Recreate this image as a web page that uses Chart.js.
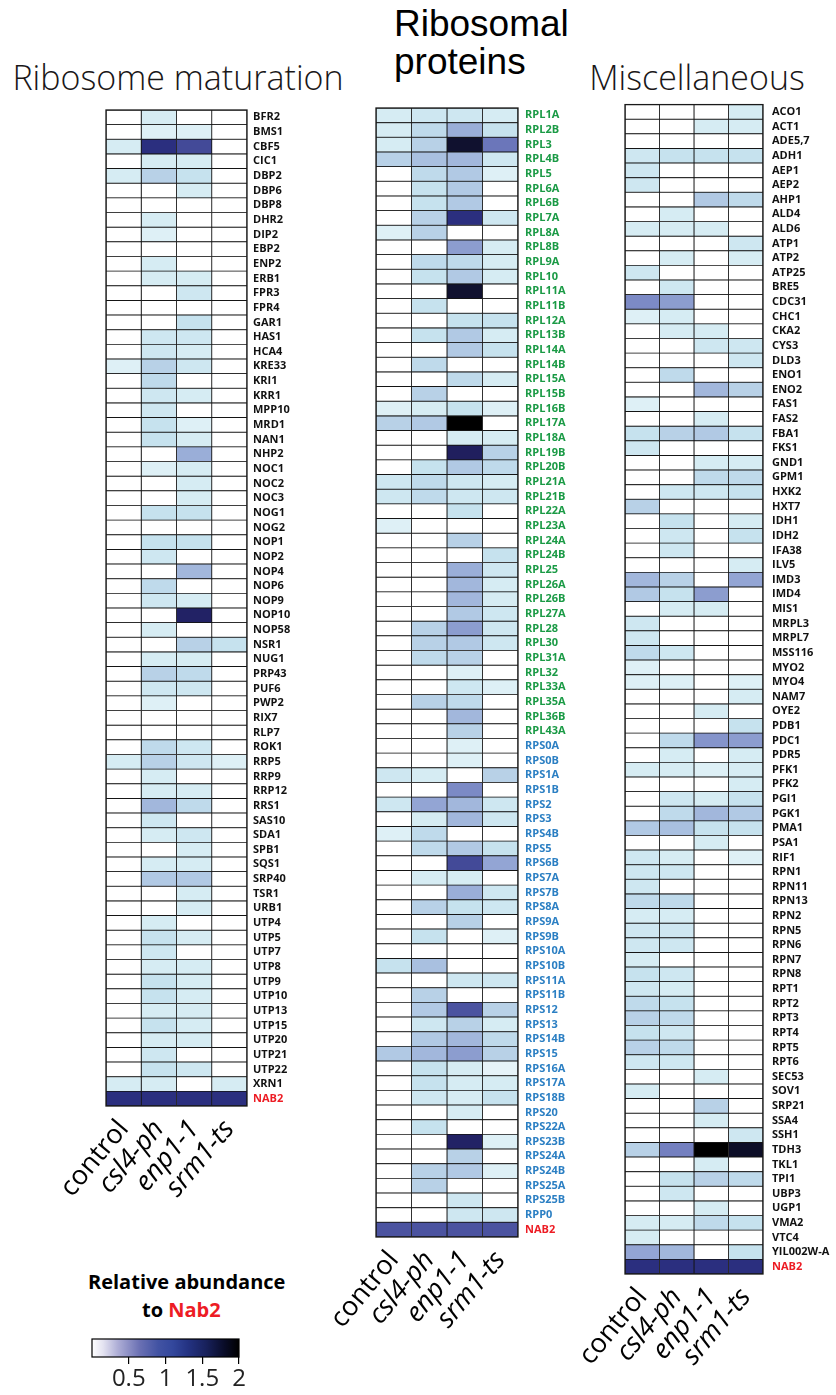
<!DOCTYPE html>
<html>
<head>
<meta charset="utf-8">
<script src="https://cdn.jsdelivr.net/npm/chart.js@4.4.1/dist/chart.umd.min.js"></script>
<style>
  body { margin: 0; background: #fff; width: 836px; height: 1395px; position: relative; overflow: hidden; font-family: 'Open Sans', sans-serif; }
  .title { position: absolute; font-weight: 300; font-size: 34px; color: #1a1718; text-align: center; line-height: 39px; white-space: nowrap; }
  .title.plain { font-family: 'Liberation Sans', Arial, sans-serif; font-weight: 400; font-size: 37px; line-height: 38px; text-align: left; color: #000; }
  .legend-title { position: absolute; font-family: 'Open Sans', sans-serif; font-weight: 700; font-size: 20px; color: #000; line-height: 28px; white-space: nowrap; }
  canvas { position: absolute; }
</style>
</head>
<body>
<div class="title" style="left:10px; top:58px; width:336px;">Ribosome maturation</div>
<div class="title plain" style="left:394px; top:5px;">Ribosomal<br>proteins</div>
<div class="title" style="left:588px; top:58px; width:218px;">Miscellaneous</div>
<div class="legend-title" style="left:88px; top:1268px;">Relative abundance</div>
<div class="legend-title" style="left:142px; top:1296px;">to <span style="color:#ed1c24">Nab2</span></div>

<canvas id="maturation"></canvas>
<canvas id="ribosomal"></canvas>
<canvas id="misc"></canvas>
<canvas id="colorbar"></canvas>

<script>
// strains (heatmap columns)
const strains = ['control', 'csl4-ph', 'enp1-1', 'srm1-ts'];

// Ribosome maturation factors, values per strain relative to Nab2
const maturationGenes = ['BFR2','BMS1','CBF5','CIC1','DBP2','DBP6','DBP8','DHR2','DIP2','EBP2','ENP2','ERB1','FPR3','FPR4','GAR1','HAS1','HCA4','KRE33','KRI1','KRR1','MPP10','MRD1','NAN1','NHP2','NOC1','NOC2','NOC3','NOG1','NOG2','NOP1','NOP2','NOP4','NOP6','NOP9','NOP10','NOP58','NSR1','NUG1','PRP43','PUF6','PWP2','RIX7','RLP7','ROK1','RRP5','RRP9','RRP12','RRS1','SAS10','SDA1','SPB1','SQS1','SRP40','TSR1','URB1','UTP4','UTP5','UTP7','UTP8','UTP9','UTP10','UTP13','UTP15','UTP20','UTP21','UTP22','XRN1','NAB2'];
const maturationValues = [
  [0,0.2,0,0],[0,0.15,0.15,0],[0.2,1.2,1.05,0],[0,0.2,0.2,0],[0.2,0.4,0.3,0],[0,0,0.2,0],[0,0,0,0],[0,0.2,0,0],
  [0,0.15,0,0],[0,0,0,0],[0,0.2,0,0],[0,0.2,0.2,0],[0,0,0.25,0],[0,0,0,0],[0,0,0.3,0],[0,0.25,0.25,0],
  [0,0.25,0.2,0],[0.15,0.4,0.25,0],[0,0.35,0,0],[0,0.25,0.2,0],[0,0.25,0,0],[0,0.3,0.15,0],[0,0.3,0.2,0],
  [0,0,0.6,0],[0,0.15,0.2,0],[0,0,0.2,0],[0,0,0.2,0],[0,0.3,0.3,0],[0,0,0,0],[0,0.3,0.3,0],[0,0.25,0,0],
  [0,0,0.55,0],[0,0.35,0,0],[0,0.25,0.2,0],[0,0,1.4,0],[0,0.2,0,0],[0,0,0.4,0.3],[0,0.2,0.2,0],[0,0.4,0.35,0],
  [0,0.25,0.25,0],[0,0.15,0,0],[0,0,0,0],[0,0,0,0],[0,0.35,0.25,0],[0.2,0.4,0.25,0.15],[0,0.2,0,0],
  [0,0.2,0.2,0],[0,0.55,0.35,0],[0,0.25,0,0],[0,0.2,0.25,0],[0,0,0.2,0],[0,0.2,0.2,0],[0,0.45,0.45,0],
  [0,0,0.2,0],[0,0,0.2,0],[0,0.2,0,0],[0,0.3,0.2,0],[0,0.25,0,0],[0,0.2,0.2,0],[0,0.3,0.2,0],[0,0.3,0.2,0],
  [0,0.2,0.2,0],[0,0.3,0.2,0],[0,0.2,0.2,0],[0,0.25,0,0],[0,0.3,0.25,0],[0.2,0.2,0,0.2],[1.2,1.2,1.2,1.2]
];

// Ribosomal proteins
const ribosomalGenes = ['RPL1A','RPL2B','RPL3','RPL4B','RPL5','RPL6A','RPL6B','RPL7A','RPL8A','RPL8B','RPL9A','RPL10','RPL11A','RPL11B','RPL12A','RPL13B','RPL14A','RPL14B','RPL15A','RPL15B','RPL16B','RPL17A','RPL18A','RPL19B','RPL20B','RPL21A','RPL21B','RPL22A','RPL23A','RPL24A','RPL24B','RPL25','RPL26A','RPL26B','RPL27A','RPL28','RPL30','RPL31A','RPL32','RPL33A','RPL35A','RPL36B','RPL43A','RPS0A','RPS0B','RPS1A','RPS1B','RPS2','RPS3','RPS4B','RPS5','RPS6B','RPS7A','RPS7B','RPS8A','RPS9A','RPS9B','RPS10A','RPS10B','RPS11A','RPS11B','RPS12','RPS13','RPS14B','RPS15','RPS16A','RPS17A','RPS18B','RPS20','RPS22A','RPS23B','RPS24A','RPS24B','RPS25A','RPS25B','RPP0','NAB2'];
const ribosomalValues = [
  [0.2,0.25,0.25,0.2],[0.2,0.35,0.6,0.3],[0.2,0.4,1.7,0.9],[0.4,0.5,0.55,0.25],[0,0.35,0.45,0.15],[0,0.3,0.45,0],
  [0,0.3,0.45,0],[0,0.4,1.2,0.25],[0.15,0.4,0,0],[0,0,0.7,0.2],[0,0.35,0.35,0.2],[0,0.3,0.45,0.2],[0,0,1.7,0],
  [0,0.3,0,0],[0,0,0.3,0.3],[0,0.3,0.45,0.2],[0,0,0.45,0.3],[0,0.35,0,0],[0,0,0.35,0.2],[0,0.4,0,0],
  [0.15,0.2,0.3,0.15],[0.4,0.45,2.0,0],[0,0,0.2,0.2],[0,0,1.45,0.4],[0,0.3,0.45,0.35],[0.25,0.35,0.25,0.2],
  [0.25,0.35,0.25,0.25],[0,0,0.3,0],[0.15,0,0,0],[0,0,0.4,0],[0,0,0,0.3],[0,0,0.6,0.25],[0,0,0.55,0.2],
  [0,0,0.55,0.2],[0,0,0.45,0.25],[0,0.4,0.7,0.25],[0,0.4,0.45,0.25],[0,0.35,0.4,0],[0,0,0.15,0],[0,0,0.25,0.15],
  [0,0.4,0.35,0],[0,0,0.55,0],[0,0,0.4,0],[0,0,0.15,0],[0,0,0.15,0],[0.25,0.2,0,0.4],[0,0,0.8,0],
  [0.25,0.65,0.55,0.25],[0,0.2,0.55,0.25],[0.15,0.35,0,0],[0,0.35,0.45,0.3],[0,0,1.05,0.65],[0,0.2,0.2,0],
  [0,0,0.6,0.25],[0,0.4,0.3,0.25],[0,0,0.4,0],[0,0.3,0,0.15],[0,0,0,0],[0.3,0.5,0,0],[0,0,0.25,0.25],
  [0,0.4,0,0],[0,0.45,1.0,0.4],[0,0.25,0.4,0.2],[0,0.45,0.55,0.35],[0.45,0.55,0.7,0.4],[0,0.3,0.2,0.1],
  [0,0.3,0.2,0.2],[0,0.25,0.2,0.3],[0,0,0.2,0],[0,0.3,0,0],[0,0,1.4,0.15],[0,0,0.4,0],[0,0.4,0.45,0.15],
  [0,0.4,0,0],[0,0,0.25,0],[0,0,0.25,0.25],[1,1,1,1]
];

// Miscellaneous proteins
const miscGenes = ['ACO1','ACT1','ADE5,7','ADH1','AEP1','AEP2','AHP1','ALD4','ALD6','ATP1','ATP2','ATP25','BRE5','CDC31','CHC1','CKA2','CYS3','DLD3','ENO1','ENO2','FAS1','FAS2','FBA1','FKS1','GND1','GPM1','HXK2','HXT7','IDH1','IDH2','IFA38','ILV5','IMD3','IMD4','MIS1','MRPL3','MRPL7','MSS116','MYO2','MYO4','NAM7','OYE2','PDB1','PDC1','PDR5','PFK1','PFK2','PGI1','PGK1','PMA1','PSA1','RIF1','RPN1','RPN11','RPN13','RPN2','RPN5','RPN6','RPN7','RPN8','RPT1','RPT2','RPT3','RPT4','RPT5','RPT6','SEC53','SOV1','SRP21','SSA4','SSH1','TDH3','TKL1','TPI1','UBP3','UGP1','VMA2','VTC4','YIL002W-A','NAB2'];
const miscValues = [
  [0,0,0,0.2],[0,0,0.2,0.2],[0,0,0,0],[0.25,0.3,0.3,0.3],[0.25,0,0,0],[0.25,0,0,0],[0,0,0.45,0.35],[0,0.2,0,0],
  [0.2,0.2,0.2,0],[0,0,0,0.25],[0,0.2,0,0.2],[0.25,0,0,0],[0,0.25,0,0],[0.8,0.7,0,0],[0.15,0.2,0,0],[0,0.2,0.2,0],
  [0,0,0.25,0.25],[0,0,0,0.25],[0,0.35,0,0],[0,0,0.55,0.4],[0.15,0,0,0],[0,0,0.2,0],[0.3,0.4,0.45,0.3],[0.25,0,0,0],
  [0,0,0.2,0.2],[0,0,0.35,0.35],[0,0.25,0.25,0.3],[0.4,0,0,0],[0,0.3,0,0.2],[0,0.25,0,0.3],[0,0.25,0,0],[0,0,0,0.2],
  [0.55,0.4,0,0.65],[0.45,0.3,0.7,0],[0,0.2,0.2,0],[0.25,0,0,0],[0.25,0,0,0],[0.35,0.25,0,0],[0.15,0,0,0],[0.15,0.15,0,0.15],
  [0,0,0,0.2],[0,0,0.2,0],[0,0,0,0.3],[0,0.35,0.75,0.7],[0,0.2,0,0.2],[0.2,0.2,0.15,0.2],[0,0,0,0.2],[0,0.25,0.2,0.3],
  [0,0.35,0.55,0.45],[0.45,0.5,0.3,0.3],[0,0,0.2,0],[0.25,0.2,0,0.15],[0.25,0.25,0,0],[0.25,0,0,0],[0.35,0.35,0,0],[0.2,0.2,0,0],
  [0.25,0.25,0,0],[0.25,0.25,0,0],[0.2,0,0,0],[0.3,0.25,0,0],[0.25,0.2,0,0],[0.35,0.3,0,0],[0.4,0.35,0,0],[0.3,0.25,0,0],
  [0.4,0.35,0,0],[0.25,0.25,0,0],[0,0,0.2,0],[0.2,0,0,0],[0,0,0.4,0],[0,0,0.2,0],[0,0,0,0.25],[0.4,0.85,2.0,1.75],
  [0,0,0.2,0],[0,0.3,0.4,0.35],[0,0.25,0,0],[0,0,0.2,0],[0.2,0.2,0.35,0.3],[0.2,0,0,0],[0.65,0.55,0,0.3],[1.2,1.2,1.2,1.2]
];

// colour bar
const scaleMin = 0;
const scaleMax = 2;
const scaleTicks = [0.5, 1, 1.5, 2];

// cell colours, white -> pale cyan -> blue -> navy -> black
const cellStops = [
  [0, [255,255,255]], [0.1, [230,243,248]], [0.2, [214,236,243]], [0.3, [198,226,238]],
  [0.4, [184,209,231]], [0.5, [169,192,224]], [0.6, [154,174,216]], [0.75, [133,148,203]],
  [0.9, [107,118,186]], [1.0, [75,83,160]], [1.2, [43,47,127]], [1.45, [32,31,94]],
  [1.7, [16,17,47]], [2.0, [0,0,0]]
];
// the bar in the legend
const barStops = [
  [0, '#ffffff'], [0.15, '#e4e3f1'], [0.35, '#aeaed6'], [0.65, '#6a70b3'], [0.9, '#4253a3'],
  [1.1, '#33479c'], [1.3, '#243383'], [1.55, '#18215c'], [1.8, '#090c28'], [2, '#000000']
];

function cellColor(v) {
  if (v <= 0) return '#ffffff';
  for (let i = 1; i < cellStops.length; i++) {
    const [v1, c1] = cellStops[i];
    if (v <= v1) {
      const [v0, c0] = cellStops[i - 1];
      const t = (v - v0) / (v1 - v0);
      const c = c0.map((x, k) => Math.round(x + (c1[k] - x) * t));
      return `rgb(${c[0]},${c[1]},${c[2]})`;
    }
  }
  return '#000000';
}

function labelColor(gene) {
  if (gene === 'NAB2') return '#ed1c24';
  if (gene.startsWith('RPL')) return '#1a9a45';
  if (gene.startsWith('RPS') || gene.startsWith('RPP')) return '#2b7fc3';
  return '#111111';
}

// outer frame around the cells
const framePlugin = {
  id: 'frame',
  afterDatasetsDraw(chart) {
    const a = chart.chartArea, ctx = chart.ctx;
    ctx.save();
    ctx.strokeStyle = '#1a1a1a';
    ctx.lineWidth = 1.3;
    ctx.strokeRect(a.left, a.top, a.right - a.left, a.bottom - a.top);
    ctx.restore();
  }
};

function heatmap(id, genes, values, box) {
  const padL = 80, padT = 14, axisH = 130;
  const canvas = document.getElementById(id);
  canvas.width = padL + box.w + box.labelW;
  canvas.height = padT + box.h + axisH;
  canvas.style.left = (box.x - padL) + 'px';
  canvas.style.top = (box.y - padT) + 'px';

  const datasets = strains.map((s, c) => ({
    label: s,
    data: genes.map(() => 1),
    backgroundColor: values.map(row => cellColor(row[c])),
    borderColor: '#151515',
    borderWidth: 0.8,
    borderSkipped: false,
    barPercentage: 1,
    categoryPercentage: 1
  }));

  new Chart(canvas.getContext('2d'), {
    type: 'bar',
    data: { labels: genes, datasets },
    options: {
      indexAxis: 'y',
      responsive: false,
      animation: false,
      layout: { padding: { left: padL, top: padT, right: 0, bottom: 0 } },
      plugins: { legend: { display: false }, tooltip: { enabled: false } },
      scales: {
        x: { stacked: true, min: 0, max: 4, display: false },
        cols: {
          type: 'category',
          labels: strains,
          position: 'bottom',
          offset: true,
          grid: { display: false },
          border: { display: false },
          ticks: {
            autoSkip: false,
            minRotation: 50,
            maxRotation: 50,
            padding: 0,
            color: '#000',
            font: ctx => ({ family: 'Open Sans', size: 27, style: ctx.index === 0 ? 'normal' : 'italic' })
          },
          afterFit: s => { s.height = axisH; }
        },
        y: {
          stacked: true,
          position: 'right',
          grid: { display: false, drawTicks: false },
          border: { display: false },
          ticks: {
            autoSkip: false,
            padding: box.labelPad,
            color: ctx => labelColor(genes[ctx.index]),
            font: { family: 'Open Sans', weight: 'bold', size: 11 }
          },
          afterFit: s => { s.width = box.labelW; }
        }
      }
    },
    plugins: [framePlugin]
  });
}

document.addEventListener('DOMContentLoaded', () => {
  heatmap('maturation', maturationGenes, maturationValues, { x: 106, y: 110, w: 141, h: 996, labelW: 85, labelPad: 6 });
  heatmap('ribosomal', ribosomalGenes, ribosomalValues, { x: 376, y: 108, w: 142, h: 1129, labelW: 85, labelPad: 7 });
  heatmap('misc', miscGenes, miscValues, { x: 625, y: 103, w: 138, h: 1171, labelW: 80, labelPad: 9 });

  // colour bar legend
  const cb = document.getElementById('colorbar');
  const padL = 32, padT = 14, padR = 22, barW = 147, barH = 18, axisH = 42;
  cb.width = padL + barW + padR;
  cb.height = padT + barH + axisH;
  cb.style.left = (92 - padL) + 'px';
  cb.style.top = (1339 - padT) + 'px';

  const gradientPlugin = {
    id: 'gradient',
    beforeDatasetsDraw(chart) {
      const a = chart.chartArea, ctx = chart.ctx, x = chart.scales.x;
      const g = ctx.createLinearGradient(x.getPixelForValue(scaleMin), 0, x.getPixelForValue(scaleMax), 0);
      barStops.forEach(([v, c]) => g.addColorStop((v - scaleMin) / (scaleMax - scaleMin), c));
      ctx.save();
      ctx.fillStyle = g;
      ctx.fillRect(a.left, a.top, a.right - a.left, a.bottom - a.top);
      ctx.strokeStyle = '#000';
      ctx.lineWidth = 1.2;
      ctx.strokeRect(a.left, a.top, a.right - a.left, a.bottom - a.top);
      ctx.restore();
    }
  };

  new Chart(cb.getContext('2d'), {
    type: 'scatter',
    data: { datasets: [{ data: [] }] },
    options: {
      responsive: false,
      animation: false,
      layout: { padding: { left: padL, top: padT, right: padR, bottom: 0 } },
      plugins: { legend: { display: false }, tooltip: { enabled: false } },
      scales: {
        x: {
          type: 'linear',
          min: scaleMin,
          max: scaleMax,
          afterBuildTicks: s => { s.ticks = scaleTicks.map(v => ({ value: v })); },
          grid: { drawOnChartArea: false, drawTicks: true, tickLength: 7, color: '#000', lineWidth: 1.2 },
          border: { display: false },
          ticks: { padding: 1, color: '#222', font: { family: 'Open Sans', size: 24 }, callback: v => String(v) },
          afterFit: s => { s.height = axisH; }
        },
        y: { display: false, min: 0, max: 1 }
      }
    },
    plugins: [gradientPlugin]
  });
});
</script>
</body>
</html>
